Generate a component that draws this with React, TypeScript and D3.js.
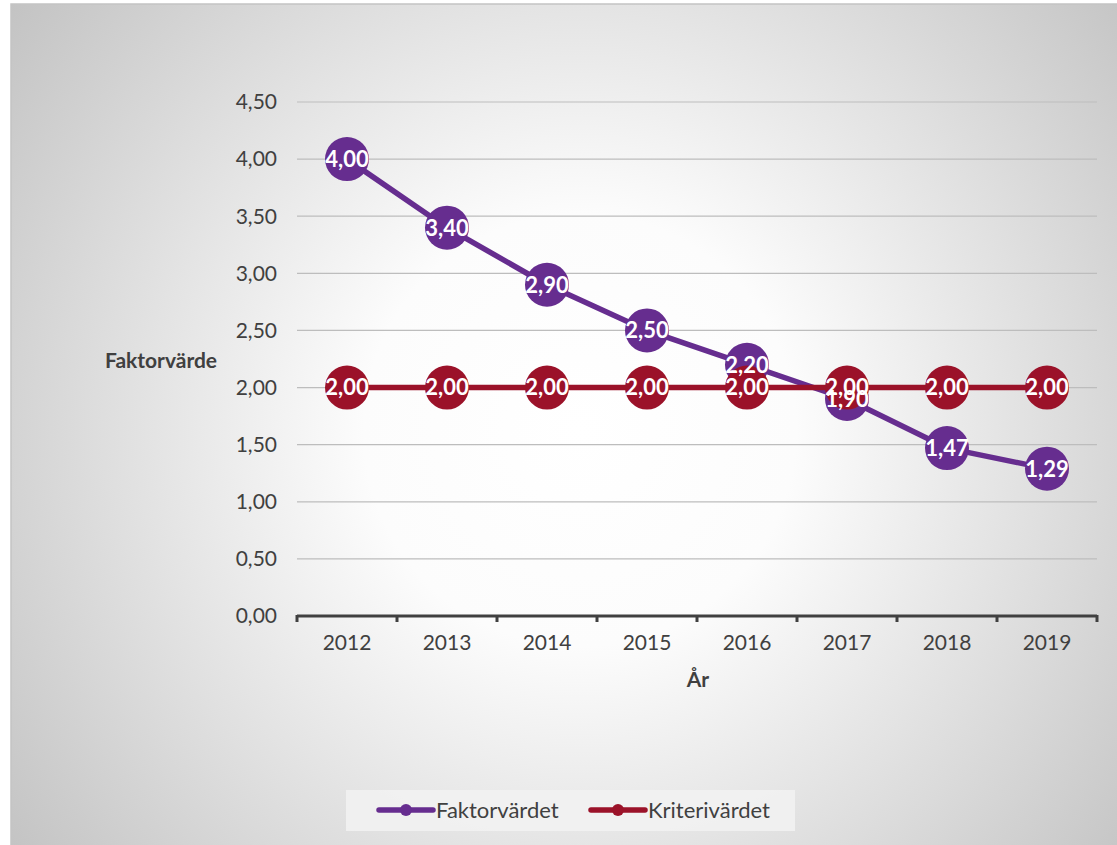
import React from "react";
import * as d3 from "d3";

const years = ["2012", "2013", "2014", "2015", "2016", "2017", "2018", "2019"];
const faktorvardet = [4.0, 3.4, 2.9, 2.5, 2.2, 1.9, 1.47, 1.29];
const kriterivardet = [2.0, 2.0, 2.0, 2.0, 2.0, 2.0, 2.0, 2.0];
const yTicks = [0, 0.5, 1, 1.5, 2, 2.5, 3, 3.5, 4, 4.5];
const seriesNames = ["Faktorvärdet", "Kriterivärdet"];
const seriesColors = ["#662d8f", "#9b1229"];

const W = 1117;
const H = 845;
const FONT = "Lato, 'Open Sans', sans-serif";

export default function App() {
  const x = d3.scaleBand().domain(years).range([297, 1097]).padding(0);
  const y = d3.scaleLinear().domain([0, 4.5]).range([616, 102]);
  const fmt = (v: number) => v.toFixed(2).replace(".", ",");
  const cx = (d: string) => (x(d) as number) + x.bandwidth() / 2;
  const line = d3
    .line<number>()
    .x((_, i) => cx(years[i]))
    .y((v) => y(v));
  const series = [faktorvardet, kriterivardet];

  return (
    <div style={{ position: "fixed", left: 0, top: 0 }}>
      <svg width={W} height={H} style={{ display: "block" }}>
        <defs>
          <radialGradient id="bg" cx="580" cy="430" r="720" gradientUnits="userSpaceOnUse">
            <stop offset="0" stopColor="#ffffff" />
            <stop offset="0.3" stopColor="#fcfcfc" />
            <stop offset="1" stopColor="#c2c2c2" />
          </radialGradient>
        </defs>
        <rect x={0} y={0} width={W} height={H} fill="#ffffff" />
        <rect x={11} y={4} width={W} height={H} fill="url(#bg)" stroke="#c4c4c4" strokeWidth={1.5} />

        {/* gridlines */}
        {yTicks.map((t) =>
          t === 0 ? null : (
            <line key={t} x1={297} x2={1097} y1={y(t)} y2={y(t)} stroke="#bdbdbd" strokeWidth={1.2} />
          )
        )}
        {/* y tick labels */}
        {yTicks.map((t) => (
          <text key={"l" + t} x={277} y={y(t)} dy="0.35em" textAnchor="end" fontFamily={FONT} fontSize={21} fill="#404040">
            {fmt(t)}
          </text>
        ))}
        {/* x axis */}
        <line x1={297} x2={1097} y1={616} y2={616} stroke="#404040" strokeWidth={3} />
        {d3.range(years.length + 1).map((i) => {
          const xx = 297 + i * x.bandwidth();
          return <line key={"tk" + i} x1={xx} x2={xx} y1={615} y2={622} stroke="#404040" strokeWidth={3} />;
        })}
        {years.map((yr) => (
          <text key={yr} x={cx(yr)} y={643} dy="0.35em" textAnchor="middle" fontFamily={FONT} fontSize={21} fill="#404040">
            {yr}
          </text>
        ))}
        {/* axis titles */}
        <text x={698} y={680} dy="0.35em" textAnchor="middle" fontFamily={FONT} fontSize={21} fontWeight="bold" fill="#404040">
          År
        </text>
        <text x={161} y={361} dy="0.35em" textAnchor="middle" fontFamily={FONT} fontSize={21} fontWeight="bold" fill="#404040">
          Faktorvärde
        </text>

        {/* series */}
        {series.map((vals, si) => (
          <g key={"s" + si}>
            <path d={line(vals) as string} fill="none" stroke={seriesColors[si]} strokeWidth={5.5} strokeLinejoin="round" />
            {vals.map((v, i) => (
              <circle key={i} cx={cx(years[i])} cy={y(v)} r={22} fill={seriesColors[si]} />
            ))}
          </g>
        ))}
        {series.map((vals, si) => (
          <g key={"lab" + si}>
            {vals.map((v, i) => (
              <text
                key={i}
                x={cx(years[i])}
                y={y(v)}
                dy="0.36em"
                textAnchor="middle"
                fontFamily={FONT}
                fontSize={22}
                fontWeight="bold"
                fill="#ffffff"
              >
                {fmt(v)}
              </text>
            ))}
          </g>
        ))}

        {/* legend */}
        <rect x={346} y={790} width={449} height={41} fill="#f2f2f2" opacity={0.85} />
        {seriesNames.map((name, i) => {
          const x0 = i === 0 ? 379 : 591;
          return (
            <g key={name}>
              <line x1={x0} x2={x0 + 54} y1={810} y2={810} stroke={seriesColors[i]} strokeWidth={5.5} strokeLinecap="round" />
              <circle cx={x0 + 27} cy={810} r={6} fill={seriesColors[i]} />
              <text x={x0 + 57} y={810} dy="0.35em" fontFamily={FONT} fontSize={22} fill="#404040">
                {name}
              </text>
            </g>
          );
        })}
      </svg>
    </div>
  );
}
